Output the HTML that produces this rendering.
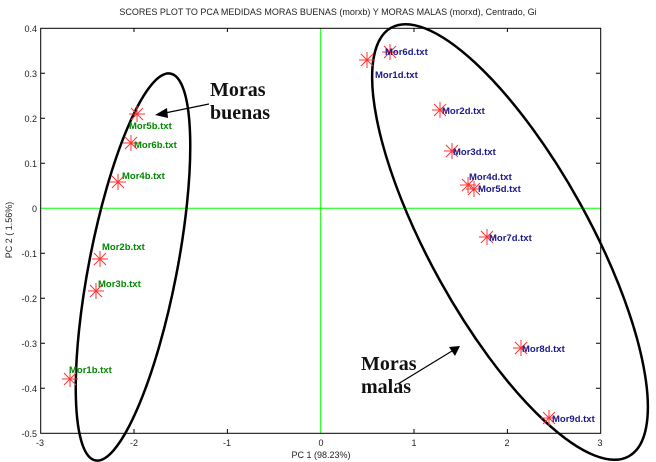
<!DOCTYPE html><html><head><style>html,body{margin:0;padding:0;background:#fff;width:656px;height:462px;overflow:hidden}svg{display:block}</style></head><body>
<svg width="656" height="462" viewBox="0 0 656 462" xmlns="http://www.w3.org/2000/svg" font-family="Liberation Sans, sans-serif" overflow="hidden">
<defs><clipPath id="c"><rect width="656" height="462"/></clipPath>
<g id="s" stroke="#f33" stroke-width="1"><path d="M-8 0h16M0-8v16M-6-6l12 12M-6 6l12-12"/></g></defs>
<rect width="656" height="462" fill="#fff"/>
<text x="328" y="15" font-size="9" text-anchor="middle" fill="#222">SCORES PLOT TO PCA MEDIDAS MORAS BUENAS (morxb) Y MORAS MALAS (morxd), Centrado, Gi</text>
<line x1="40.7" y1="208.3" x2="600.7" y2="208.3" stroke="#0f0" stroke-width="1"/>
<line x1="320.7" y1="28.3" x2="320.7" y2="433.3" stroke="#0f0" stroke-width="1"/>
<rect x="40.7" y="28.3" width="560" height="405" fill="none" stroke="#000" stroke-width="1"/>
<g stroke="#000" stroke-width="1">
<path d="M134 28v4M227.4 28v4M414 28v4M507.4 28v4M134 433v-4M227.4 433v-4M414 433v-4M507.4 433v-4"/>
<path d="M41 73.3h4M41 118.3h4M41 163.3h4M41 253.3h4M41 298.3h4M41 343.3h4M41 388.3h4M600 73.3h-4M600 118.3h-4M600 163.3h-4M600 253.3h-4M600 298.3h-4M600 343.3h-4M600 388.3h-4"/>
</g>
<g font-size="9" fill="#222" text-anchor="end">
<text x="37" y="32">0.4</text><text x="37" y="77">0.3</text><text x="37" y="122">0.2</text><text x="37" y="167">0.1</text><text x="37" y="212">0</text><text x="37" y="257">-0.1</text><text x="37" y="302">-0.2</text><text x="37" y="347">-0.3</text><text x="37" y="392">-0.4</text><text x="37" y="437">-0.5</text>
</g>
<g font-size="9" fill="#222" text-anchor="middle">
<text x="40" y="446">-3</text><text x="134" y="446">-2</text><text x="227" y="446">-1</text><text x="321" y="446">0</text><text x="414" y="446">1</text><text x="507" y="446">2</text><text x="600" y="446">3</text>
<text x="321" y="458">PC 1 (98.23%)</text>
</g>
<text transform="translate(12,230) rotate(-90)" font-size="9" fill="#222" text-anchor="middle">PC 2 ( 1.56%)</text>
<g clip-path="url(#c)">
<ellipse cx="133" cy="267" rx="44" ry="197" transform="rotate(11 133 267)" fill="none" stroke="#000" stroke-width="2.5"/>
<ellipse cx="510" cy="242" rx="80" ry="245" transform="rotate(-29 510 242)" fill="none" stroke="#000" stroke-width="2.5"/>
</g>
<g>
<use href="#s" x="137" y="114"/><use href="#s" x="131" y="143"/><use href="#s" x="118" y="182"/><use href="#s" x="100" y="259"/><use href="#s" x="96" y="291"/><use href="#s" x="70" y="379"/>
<use href="#s" x="390" y="52"/><use href="#s" x="367" y="60"/><use href="#s" x="440" y="110"/><use href="#s" x="452" y="151"/><use href="#s" x="468" y="185"/><use href="#s" x="474" y="189"/><use href="#s" x="487" y="237"/><use href="#s" x="521" y="348"/><use href="#s" x="549" y="418"/>
</g>
<g font-size="9.5" font-weight="bold" fill="#080">
<text x="129" y="129">Mor5b.txt</text><text x="134" y="148">Mor6b.txt</text><text x="122" y="179">Mor4b.txt</text><text x="102" y="250">Mor2b.txt</text><text x="98" y="287">Mor3b.txt</text><text x="69" y="373">Mor1b.txt</text>
</g>
<g font-size="9.5" font-weight="bold" fill="#1a1a8c">
<text x="385" y="55">Mor6d.txt</text><text x="375" y="78">Mor1d.txt</text><text x="442" y="114">Mor2d.txt</text><text x="453" y="155">Mor3d.txt</text><text x="469" y="180">Mor4d.txt</text><text x="478" y="192">Mor5d.txt</text><text x="489" y="241">Mor7d.txt</text><text x="522" y="352">Mor8d.txt</text><text x="552" y="422">Mor9d.txt</text>
</g>
<g font-family="Liberation Serif, serif" font-size="20" font-weight="bold" fill="#111">
<text x="210" y="96">Moras</text><text x="210" y="119">buenas</text>
<text x="361" y="370">Moras</text><text x="361" y="393">malas</text>
</g>
<line x1="209" y1="104" x2="165" y2="113" stroke="#000" stroke-width="1.2"/>
<polygon points="155,115 167,108 168,118" fill="#000"/>
<line x1="398" y1="384" x2="452" y2="351" stroke="#000" stroke-width="1.2"/>
<polygon points="460,346 449,347 455,356" fill="#000"/>
</svg></body></html>
